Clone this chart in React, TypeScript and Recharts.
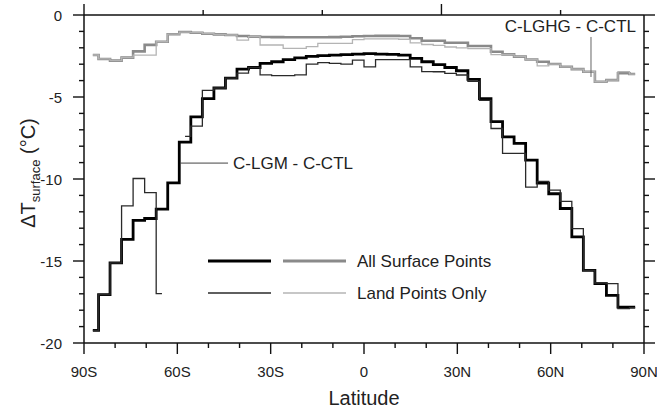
import { LineChart, Line, XAxis, YAxis, ReferenceLine, Legend } from "recharts";

// Gaussian-grid latitudes (48 bands)
const latitudes = [
  -87.159, -83.479, -79.777, -76.07, -72.362, -68.652, -64.942, -61.232,
  -57.521, -53.81, -50.099, -46.389, -42.678, -38.967, -35.256, -31.545,
  -27.834, -24.123, -20.413, -16.702, -12.991, -9.28, -5.569, -1.856,
  1.856, 5.569, 9.28, 12.991, 16.702, 20.413, 24.123, 27.834,
  31.545, 35.256, 38.967, 42.678, 46.389, 50.099, 53.81, 57.521,
  61.232, 64.942, 68.652, 72.362, 76.07, 79.777, 83.479, 87.159,
];

// C-LGM - C-CTL, all surface points
const lgmAll = [
  -19.23, -17.05, -15.12, -13.68, -12.52, -12.41, -11.84, -10.24,
  -7.75, -6.21, -5.1, -4.45, -3.85, -3.3, -3.2, -2.95,
  -2.85, -2.72, -2.62, -2.52, -2.48, -2.45, -2.42, -2.38,
  -2.35, -2.38, -2.4, -2.45, -2.65, -2.85, -3.02, -3.2,
  -3.4, -3.92, -5.1, -6.5, -7.43, -7.83, -8.85, -10.25,
  -10.9, -11.8, -13.53, -15.57, -16.38, -17.09, -17.81, -17.81,
];

// C-LGM - C-CTL, land points only (no land in band 8)
const lgmLand = [
  -19.23, -17.05, -15.12, -11.64, -9.97, -10.83, -16.99, null,
  -7.4, -6.78, -4.6, -4.45, -3.85, -3.55, -3.2, -3.65,
  -3.7, -3.7, -3.65, -3.0, -2.9, -2.95, -3.0, -2.75,
  -3.16, -2.72, -2.72, -2.72, -3.16, -3.45, -3.46, -3.56,
  -3.66, -4.05, -5.2, -6.92, -8.44, -8.44, -10.5, -10.15,
  -10.68, -11.36, -13.02, -15.57, -16.34, -16.38, -17.91, -17.85,
];

// C-LGHG - C-CTL, all surface points
const lghgAll = [
  -2.44, -2.68, -2.78, -2.6, -2.22, -1.82, -1.63, -1.17,
  -1.04, -1.08, -1.14, -1.18, -1.22, -1.28, -1.32, -1.34,
  -1.35, -1.36, -1.36, -1.36, -1.36, -1.35, -1.33, -1.3,
  -1.28, -1.27, -1.27, -1.28, -1.42, -1.57, -1.57, -1.69,
  -1.69, -1.89, -1.89, -2.24, -2.4, -2.54, -2.71, -2.85,
  -2.99, -3.16, -3.3, -3.46, -4.07, -3.97, -3.55, -3.6,
];

// C-LGHG - C-CTL, land points only
const lghgLand = [
  -2.44, -2.68, -2.78, -2.6, -2.45, -2.45, -1.63, -1.17,
  -1.04, -1.08, -1.14, -1.18, -1.22, -1.53, -1.32, -1.83,
  -1.83, -2.03, -2.03, -1.93, -1.73, -1.73, -1.73, -1.5,
  -1.45, -1.45, -1.45, -1.48, -1.7, -1.8, -1.85, -1.95,
  -2.0, -2.05, -2.05, -2.42, -2.4, -2.54, -2.71, -3.1,
  -2.99, -3.16, -3.3, -3.46, -4.07, -3.97, -3.45, -3.6,
];

const xTicks = [-90, -80, -70, -60, -50, -40, -30, -20, -10, 0, 10, 20, 30, 40, 50, 60, 70, 80, 90];
const xTickLabels: Record<string, string> = {
  "-90": "90S", "-60": "60S", "-30": "30S", "0": "0", "30": "30N", "60": "60N", "90": "90N",
};
const yTicks = [-20, -19, -18, -17, -16, -15, -14, -13, -12, -11, -10, -9, -8, -7, -6, -5, -4, -3, -2, -1, 0];

const data = latitudes.map((lat, i) => ({
  lat,
  lgmAll: lgmAll[i],
  lgmLand: lgmLand[i],
  lghgAll: lghgAll[i],
  lghgLand: lghgLand[i],
}));

const FONT = "'Liberation Sans', Arial, Helvetica, sans-serif";
const AXIS = "#111";

const tickLen = (major: boolean) => (major ? 11 : 5);

function BottomTick(props: any) {
  const { x, y, payload } = props;
  const v = payload.value;
  const major = v % 30 === 0;
  return (
    <g>
      <line x1={x} y1={y} x2={x} y2={y + tickLen(major)} stroke={AXIS} strokeWidth={1.4} />
      {major && (
        <text x={x} y={y + 34} textAnchor="middle" fontSize={15} fill="#222" fontFamily={FONT}>
          {xTickLabels[String(v)]}
        </text>
      )}
    </g>
  );
}

function TopTick(props: any) {
  const { x, y, payload } = props;
  const major = payload.value % 30 === 0;
  return <line x1={x} y1={y} x2={x} y2={y - tickLen(major)} stroke={AXIS} strokeWidth={1.4} />;
}

function LeftTick(props: any) {
  const { x, y, payload } = props;
  const v = payload.value;
  const major = v % 5 === 0;
  return (
    <g>
      <line x1={x} y1={y} x2={x - tickLen(major)} y2={y} stroke={AXIS} strokeWidth={1.4} />
      {major && (
        <text x={x - 22} y={y + 5.5} textAnchor="end" fontSize={15} fill="#222" fontFamily={FONT}>
          {v}
        </text>
      )}
    </g>
  );
}

function RightTick(props: any) {
  const { x, y, payload } = props;
  const major = payload.value % 5 === 0;
  return <line x1={x} y1={y} x2={x + tickLen(major)} y2={y} stroke={AXIS} strokeWidth={1.4} />;
}

const legendRows = [
  { label: "All Surface Points", colors: ["#000", "#8a8a8a"], width: 3 },
  { label: "Land Points Only", colors: ["#2a2a2a", "#b4b4b4"], width: 1.4 },
];

function LegendBox() {
  return (
    <svg width={330} height={64} style={{ display: "block" }}>
      {legendRows.map((r, i) => {
        const y = 16 + i * 32;
        return (
          <g key={r.label}>
            <line x1={8} x2={71} y1={y} y2={y} stroke={r.colors[0]} strokeWidth={r.width} />
            <line x1={83} x2={146} y1={y} y2={y} stroke={r.colors[1]} strokeWidth={r.width} />
            <text x={157} y={y + 6} fontSize={17} fill="#222" fontFamily={FONT}>
              {r.label}
            </text>
          </g>
        );
      })}
    </svg>
  );
}

export default function App() {
  return (
    <div style={{ position: "absolute", left: 0, top: 0, width: 657, height: 410, background: "#fff" }}>
      <LineChart
        width={657}
        height={410}
        data={data}
        margin={{ top: 10, right: 8, bottom: 7, left: 14 }}
      >
        <XAxis
          dataKey="lat"
          type="number"
          domain={[-90, 90]}
          allowDataOverflow
          ticks={xTicks}
          interval={0}
          height={60}
          tickLine={false}
          tickSize={0}
          tickMargin={0}
          tick={<BottomTick />}
          axisLine={{ stroke: AXIS, strokeWidth: 1.5 }}
          label={(p: any) => {
            const vb = p.viewBox;
            return (
              <text x={vb.x + vb.width / 2} y={vb.y + 62} textAnchor="middle" fontSize={20} fill="#222" fontFamily={FONT}>
                Latitude
              </text>
            );
          }}
        />
        <XAxis
          xAxisId="top"
          orientation="top"
          type="number"
          domain={[-90, 90]}
          allowDataOverflow
          ticks={xTicks}
          interval={0}
          height={5}
          tickLine={false}
          tickSize={0}
          tickMargin={0}
          tick={<TopTick />}
          axisLine={{ stroke: AXIS, strokeWidth: 1.5 }}
        />
        <YAxis
          type="number"
          domain={[-20, 0]}
          allowDataOverflow
          ticks={yTicks}
          interval={0}
          width={70}
          tickLine={false}
          tickSize={0}
          tickMargin={0}
          tick={<LeftTick />}
          axisLine={{ stroke: AXIS, strokeWidth: 1.5 }}
          label={(p: any) => {
            const cx = 35;
            const cy = 173;
            return (
              <text
                x={cx}
                y={cy}
                transform={`rotate(-90, ${cx}, ${cy})`}
                textAnchor="middle"
                fontSize={20}
                fill="#222"
                fontFamily={FONT}
              >
                ΔT
                <tspan fontSize={13} dy={5}>surface</tspan>
                <tspan dy={-5}> (°C)</tspan>
              </text>
            );
          }}
        />
        <YAxis
          yAxisId="right"
          orientation="right"
          type="number"
          domain={[-20, 0]}
          allowDataOverflow
          ticks={yTicks}
          interval={0}
          width={5}
          tickLine={false}
          tickSize={0}
          tickMargin={0}
          tick={<RightTick />}
          axisLine={{ stroke: AXIS, strokeWidth: 1.5 }}
        />
        <Line type="step" dataKey="lghgAll" stroke="#8a8a8a" strokeWidth={2.6} dot={false} isAnimationActive={false} />
        <Line type="step" dataKey="lghgLand" stroke="#b4b4b4" strokeWidth={1.3} dot={false} isAnimationActive={false} />
        <Line type="step" dataKey="lgmAll" stroke="#000" strokeWidth={2.8} dot={false} isAnimationActive={false} />
        <Line type="step" dataKey="lgmLand" stroke="#2a2a2a" strokeWidth={1.3} dot={false} isAnimationActive={false} />
        <ReferenceLine
          segment={[{ x: -59.1, y: -9.03 }, { x: -43.7, y: -9.03 }]}
          stroke="#444"
          strokeWidth={1}
          label={(p: any) => {
            const vb = p.viewBox;
            return (
              <text x={vb.x + vb.width + 5} y={vb.y + 6} fontSize={17} fill="#222" fontFamily={FONT}>
                C-LGM - C-CTL
              </text>
            );
          }}
        />
        <ReferenceLine
          segment={[{ x: 72.96, y: -1.34 }, { x: 72.96, y: -3.78 }]}
          stroke="#666"
          strokeWidth={1}
          label={(p: any) => {
            const vb = p.viewBox;
            return (
              <text x={vb.x + 45} y={vb.y - 5} textAnchor="end" fontSize={17} fill="#222" fontFamily={FONT}>
                C-LGHG - C-CTL
              </text>
            );
          }}
        />
        <Legend
          layout="vertical"
          align="center"
          verticalAlign="middle"
          wrapperStyle={{ left: 200, top: 245, width: 330, height: 64 }}
          content={() => <LegendBox />}
        />
      </LineChart>
    </div>
  );
}
